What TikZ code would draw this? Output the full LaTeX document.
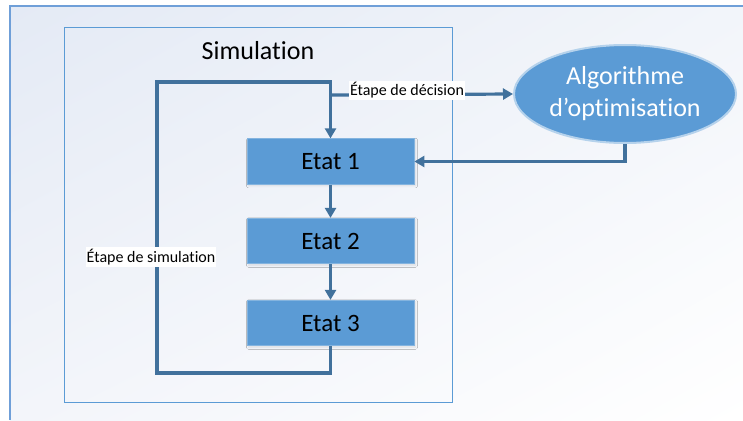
\documentclass[tikz,border=0pt]{standalone}
\usepackage{fontspec}
\setmainfont{Carlito}[Ligatures={NoCommon,NoContextual}]
\usetikzlibrary{arrows.meta,shapes.geometric,shadows.blur,shadings}
\definecolor{boxblue}{HTML}{5B9BD5}
\definecolor{linkblue}{HTML}{41719C}
\definecolor{framblue}{HTML}{6F9FD8}
\definecolor{bgA}{HTML}{E4EAF5}
\definecolor{bgB}{HTML}{F2F5FA}
\definecolor{bgC}{HTML}{F3F5FA}
\begin{document}
\begin{tikzpicture}[x=1pt,y=-1pt,
  etatbox/.style={rectangle,fill=boxblue,draw=boxblue!75!white,line width=0.8pt,
    minimum width=167pt,minimum height=45.5pt,inner sep=0pt,
    font=\fontsize{25}{30}\selectfont,text=black,
    blur shadow={shadow xshift=1.5pt,shadow yshift=-1.5pt,shadow blur radius=2pt,shadow blur steps=5,shadow opacity=10}},
  link/.style={draw=linkblue,line width=3.2pt},
  arr/.style={link,-{Triangle[length=10pt,width=11pt]}},
  steplabel/.style={fill=white,inner xsep=1pt,inner ysep=2pt,font=\fontsize{16}{19}\selectfont,text=black}
]
\useasboundingbox (0,0) rectangle (743,420);
\fill[white] (0,0) rectangle (743,420);
\shade[upper left=bgA,upper right=bgB,lower left=bgC,lower right=white] (10,6) rectangle (743,420);
\draw[framblue,line width=1.6pt] (10,420) -- (10,6) -- (743,6);
% simulation frame
\draw[boxblue,line width=1pt] (64,28) rectangle (452,402);
\node[font=\fontsize{26}{31}\selectfont,text=black] (simt) at (258,51) {Simulation};
% nodes
\node[etatbox] (e1) at (330.5,161.5) {Etat 1};
\node[etatbox] (e2) at (330.5,241) {Etat 2};
\node[etatbox] (e3) at (330.5,323) {Etat 3};
\node[ellipse,fill=boxblue,draw=boxblue!45!white,line width=2pt,
  minimum width=222pt,minimum height=98pt,inner sep=0pt,
  font=\fontsize{26}{32}\selectfont,text=white,align=center]
  (alg) at (625,94) {Algorithme\\d’optimisation};
% coordinates
\coordinate (bl) at (157,373);
\coordinate (tl) at (157,82);
\coordinate (br) at (330.5,95);
% connectors
\draw[arr] (e1.south) -- (e2.north);
\draw[arr] (e2.south) -- (e3.north);
\draw[arr] (e3.south) |- (bl) -- (tl) -| (e1.north);
\draw[arr] (br) -- (alg.west);
\draw[arr] (alg.south) |- (e1.east);
% labels
\node[steplabel] (ld) at (407,90.5) {Étape de décision};
\node[steplabel] (ls) at (151,257) {Étape de simulation};
\end{tikzpicture}
\end{document}
